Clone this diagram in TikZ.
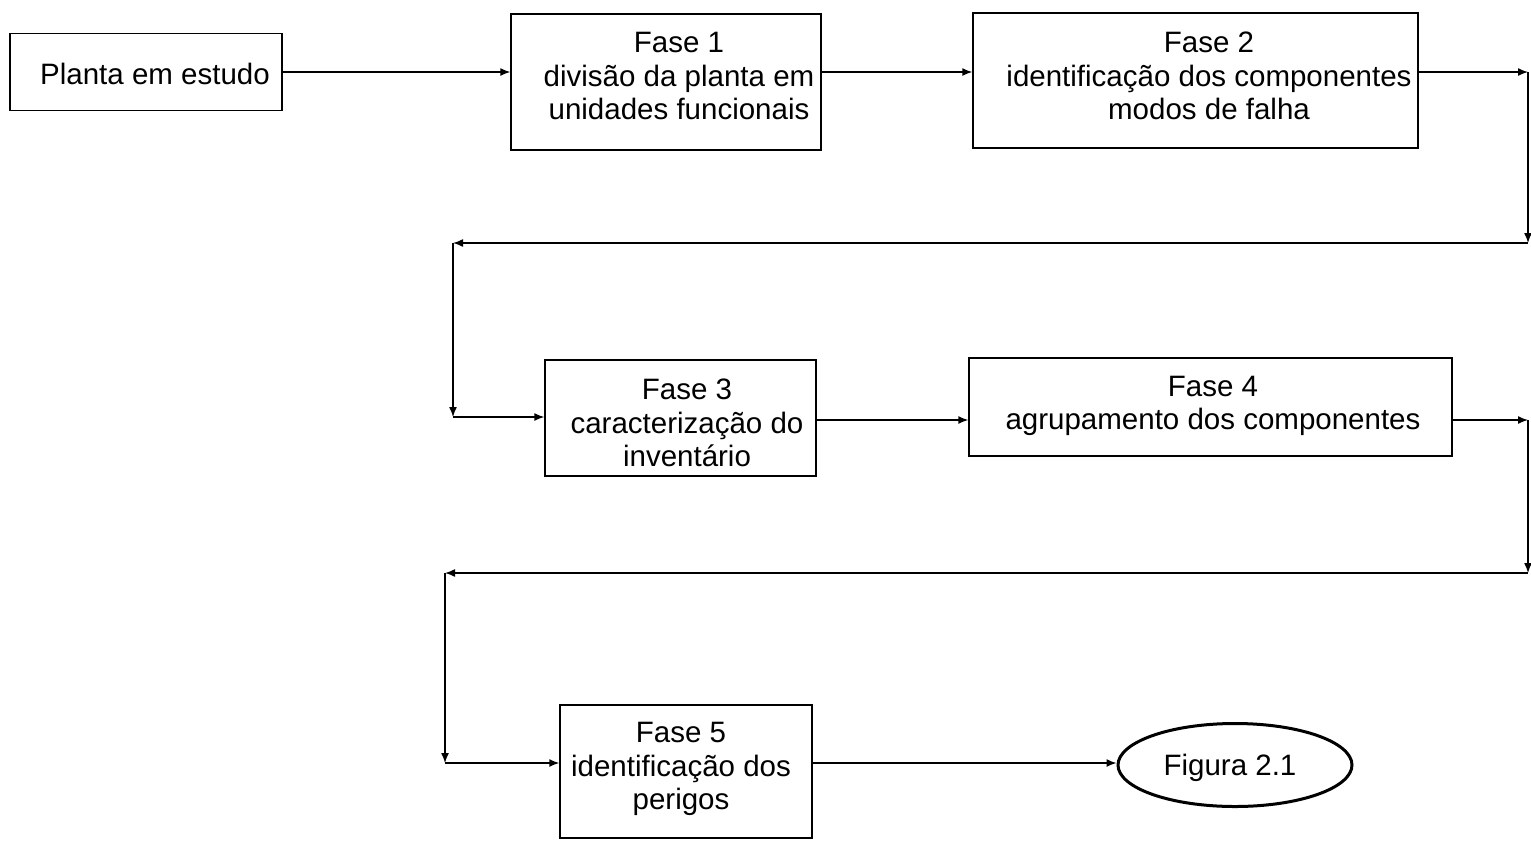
\documentclass[tikz,border=0pt]{standalone}
\usepackage{fontspec}
\setmainfont{Liberation Sans}
\usetikzlibrary{arrows.meta,shapes.geometric}
\begin{document}
\begin{tikzpicture}[x=1pt,y=-1pt,
  txt/.style={font=\fontsize{29.5}{33.5}\selectfont, align=center, inner sep=0pt},
  stage/.style={draw, line width=1.4pt, minimum width=#1, inner sep=0pt},
  flow/.style={line width=1.4pt, -{Latex[length=10pt,width=8pt]}},
  goal/.style={draw, ellipse, line width=3pt, minimum width=234pt, minimum height=83pt, inner sep=0pt}
]
\useasboundingbox (0,0) rectangle (1531,841);

% process boxes
\node[stage=272pt, minimum height=77pt] (planta) at (146,72) {};
\node[stage=310pt, minimum height=136pt] (f1) at (666,82) {};
\node[stage=445pt, minimum height=135pt] (f2) at (1195.5,80.5) {};
\node[stage=271pt, minimum height=116pt] (f3) at (680.5,418) {};
\node[stage=483pt, minimum height=98pt] (f4) at (1210.5,407) {};
\node[stage=252pt, minimum height=133pt] (f5) at (686,771.5) {};
\node[goal] (fig) at (1235,765) {};

% box texts
\node[txt] (tplanta) at (155,74) {Planta em estudo};
\node[txt] (tf1) at (679,76) {Fase 1\\divisão da planta em\\unidades funcionais};
\node[txt] (tf2) at (1209,76) {Fase 2\\identificação dos componentes\\modos de falha};
\node[txt] (tf3) at (687,423) {Fase 3\\caracterização do\\inventário};
\node[txt] (tf4) at (1213,406) {Fase 4\\agrupamento dos componentes};
\node[txt] (tf5) at (681,769) {Fase 5\\identificação dos\\perigos};
\node[txt] (tfig) at (1230,768) {Figura 2.1};

% routing points of the return lines
\coordinate (r1) at (1528,72);
\coordinate (r2) at (1528,243);
\coordinate (r3) at (453,243);
\coordinate (r4) at (453,417);
\coordinate (s1) at (1528,420);
\coordinate (s2) at (1528,573);
\coordinate (s3) at (445,573);
\coordinate (s4) at (445,763);

% connectors
\draw[flow] (planta.east) -- (f1.west |- planta.east);
\draw[flow] (f1.east |- planta.east) -- (f2.west |- planta.east);
\draw[flow] (f2.east |- r1) -- (r1);
\draw[flow] (r1) -- (r2);
\draw[flow] (r2) -- (r3);
\draw[flow] (r3) -- (r4);
\draw[flow] (r4) -- (f3.west |- r4);
\draw[flow] (f3.east |- s1) -- (f4.west |- s1);
\draw[flow] (f4.east |- s1) -- (s1);
\draw[flow] (s1) -- (s2);
\draw[flow] (s2) -- (s3);
\draw[flow] (s3) -- (s4);
\draw[flow] (s4) -- (f5.west |- s4);
\draw[flow] (f5.east |- s4) -- (fig.west |- s4);
\end{tikzpicture}
\end{document}
